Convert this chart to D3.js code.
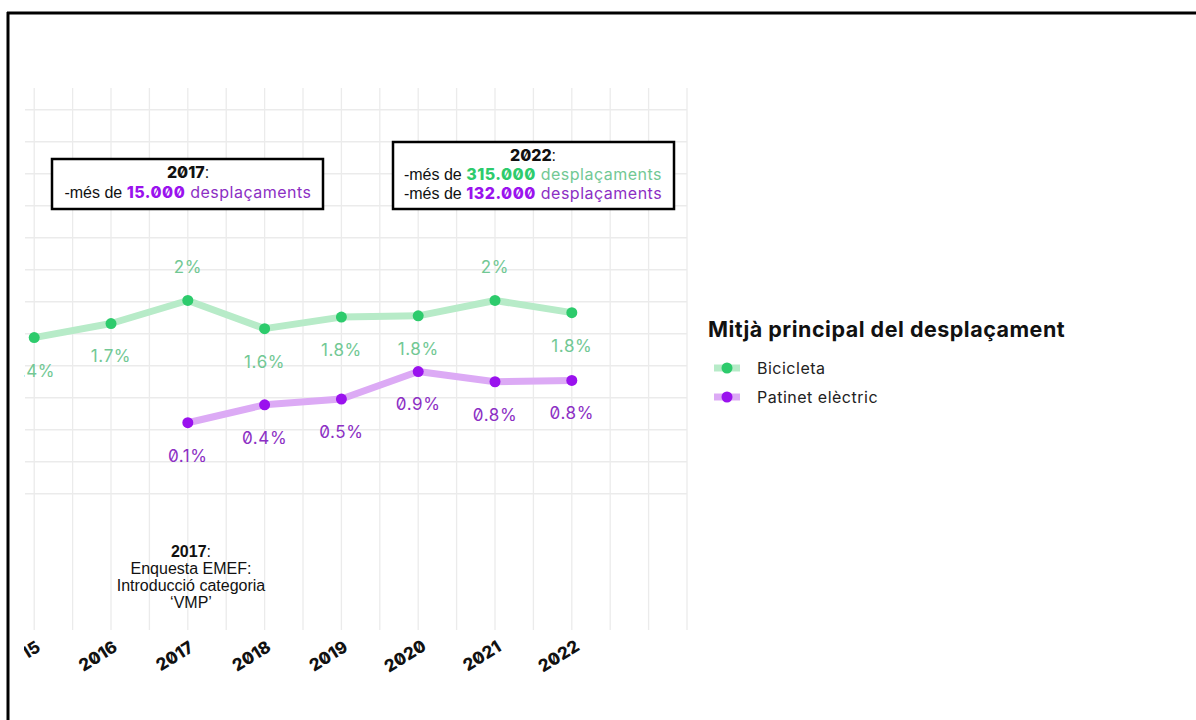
<!DOCTYPE html>
<html>
<head>
<meta charset="utf-8">
<script src="https://cdn.jsdelivr.net/npm/d3@7"></script>
<style>
  body { margin: 0; background: #fff; }
  svg text { font-feature-settings: "zero" 1; }
  .geo { font-family: Inter, "Noto Sans", sans-serif; }
  .arial { font-family: "Liberation Sans", Arial, sans-serif; }
</style>
</head>
<body>
<svg id="chart" width="1196" height="720"></svg>
<script>
// data
const years = [2015, 2016, 2017, 2018, 2019, 2020, 2021, 2022];
const bikeValues = [1.44, 1.66, 2.02, 1.58, 1.76, 1.78, 2.02, 1.83];
const bikeLabels = ["1.4%", "1.7%", "2%", "1.6%", "1.8%", "1.8%", "2%", "1.8%"];
const scooterYears = [2017, 2018, 2019, 2020, 2021, 2022];
const scooterValues = [0.11, 0.39, 0.48, 0.91, 0.75, 0.77];
const scooterLabels = ["0.1%", "0.4%", "0.5%", "0.9%", "0.8%", "0.8%"];
const tickYears = [2015, 2016, 2017, 2018, 2019, 2020, 2021, 2022];
const legendNames = ["Bicicleta", "Patinet elèctric"];

const green = "#2dcb6c", greenLine = "#b7ebc8", greenText = "#72c894";
const purple = "#9a12ee", purpleLine = "#dcaaf5", purpleText = "#8c2fc4";

const svg = d3.select("#chart");
svg.append("rect").attr("width", 1196).attr("height", 720).attr("fill", "#fff");

const x = d3.scaleLinear().domain([2014.88, 2023.5]).range([25, 687]);
const y = d3.scaleLinear().domain([-3.16, 5.34]).range([632, 88]);

svg.append("clipPath").attr("id", "clip")
  .append("rect").attr("x", 24).attr("y", 0).attr("width", 1172).attr("height", 720);

const g = svg.append("g").attr("clip-path", "url(#clip)");

// grid
const grid = g.append("g");
grid.selectAll(".vg").data(d3.range(2014.5, 2023.51, 0.5)).join("line")
  .attr("x1", d => x(d)).attr("x2", d => x(d))
  .attr("y1", 88).attr("y2", 630)
  .attr("stroke", "#ebebeb").attr("stroke-width", 1.3);
grid.selectAll(".hg").data(d3.range(-1, 5.01, 0.5)).join("line")
  .attr("x1", 25).attr("x2", 687)
  .attr("y1", d => y(d)).attr("y2", d => y(d))
  .attr("stroke", "#ebebeb").attr("stroke-width", 1.3);

// lines
const bike = years.map((yr, i) => ({ yr, v: bikeValues[i], lab: bikeLabels[i] }));
const scooter = scooterYears.map((yr, i) => ({ yr, v: scooterValues[i], lab: scooterLabels[i] }));
const line = d3.line().x(d => x(d.yr)).y(d => y(d.v));

function drawSeries(data, lc, pc, tc) {
  g.append("path").datum(data)
    .attr("d", line).attr("fill", "none")
    .attr("stroke", lc).attr("stroke-width", 7)
    .attr("stroke-linejoin", "round").attr("stroke-linecap", "round");
  g.selectAll(null).data(data).join("circle")
    .attr("cx", d => x(d.yr)).attr("cy", d => y(d.v))
    .attr("r", 5.5).attr("fill", pc);
  g.selectAll(null).data(data).join("text")
    .attr("class", "geo")
    .attr("x", d => x(d.yr))
    .attr("y", d => y(d.v) + (d.v >= 2 ? -33 : 33))
    .attr("dy", "0.35em")
    .attr("text-anchor", "middle")
    .attr("font-size", 17).attr("letter-spacing", 0.6)
    .attr("fill", tc)
    .text(d => d.lab);
}
drawSeries(bike, greenLine, green, greenText);
drawSeries(scooter, purpleLine, purple, purpleText);

// x axis labels
g.selectAll(".xl").data(tickYears).join("text")
  .attr("class", "geo")
  .attr("transform", d => `translate(${x(d) - 10},${661}) rotate(-32)`)
  .attr("text-anchor", "middle")
  .attr("font-size", 17).attr("font-weight", 800)
  .attr("fill", "#111")
  .text(d => d);

// annotation boxes
function box(x0, y0, w, h) {
  g.append("rect").attr("x", x0).attr("y", y0).attr("width", w).attr("height", h)
    .attr("fill", "#fff").attr("stroke", "#000").attr("stroke-width", 2.5);
}
function boxLine(cx, cy, num, numColor, wordColor) {
  const t = g.append("text").attr("text-anchor", "middle").attr("font-size", 16)
    .attr("x", cx).attr("y", cy);
  t.append("tspan").attr("class", "arial").attr("fill", "#111").text("-més de ");
  t.append("tspan").attr("class", "geo").attr("font-weight", 800).attr("letter-spacing", 0.5)
    .attr("fill", numColor).text(num);
  t.append("tspan").attr("class", "geo").attr("letter-spacing", 0.5)
    .attr("fill", wordColor).text(" desplaçaments");
}
function boxTitle(cx, cy, yr) {
  const t = g.append("text").attr("text-anchor", "middle").attr("font-size", 16).attr("fill", "#111")
    .attr("x", cx).attr("y", cy);
  t.append("tspan").attr("class", "geo").attr("font-weight", 800).text(yr);
  t.append("tspan").attr("class", "arial").text(":");
}
box(52, 159, 271, 50);
boxTitle(188, 178, "2017");
boxLine(188, 198, "15.000", purple, purpleText);

box(393, 142, 281, 67);
boxTitle(533, 161, "2022");
boxLine(533, 180, "315.000", green, greenText);
boxLine(533, 199, "132.000", purple, purpleText);

// 2017 survey note
const note = g.append("text").attr("class", "arial").attr("text-anchor", "middle")
  .attr("font-size", 16).attr("fill", "#111");
const n0 = note.append("tspan").attr("x", 191).attr("y", 557);
n0.append("tspan").attr("font-weight", 700).text("2017");
n0.append("tspan").text(":");
note.append("tspan").attr("x", 191).attr("y", 574).text("Enquesta EMEF:");
note.append("tspan").attr("x", 191).attr("y", 591).text("Introducció categoria");
note.append("tspan").attr("x", 191).attr("y", 608).text("‘VMP’");

// legend
svg.append("text").attr("class", "geo").attr("x", 708).attr("y", 337)
  .attr("font-size", 21.5).attr("font-weight", 700).attr("letter-spacing", 0.5).attr("fill", "#111")
  .text("Mitjà principal del desplaçament");
const lg = svg.selectAll(".lg").data(legendNames).join("g")
  .attr("transform", (d, i) => `translate(0,${368 + i * 29})`);
lg.append("line").attr("x1", 714).attr("x2", 740).attr("y1", 0).attr("y2", 0)
  .attr("stroke", (d, i) => i ? purpleLine : greenLine).attr("stroke-width", 7);
lg.append("circle").attr("cx", 727).attr("cy", 0).attr("r", 5.5)
  .attr("fill", (d, i) => i ? purple : green);
lg.append("text").attr("class", "geo").attr("x", 757).attr("dy", "0.35em")
  .attr("font-size", 16).attr("letter-spacing", 0.5).attr("fill", "#222").text(d => d);

// frame (left and top edges of the cropped picture)
svg.append("line").attr("x1", 8).attr("x2", 8).attr("y1", 12).attr("y2", 720)
  .attr("stroke", "#000").attr("stroke-width", 3);
svg.append("line").attr("x1", 7).attr("x2", 1196).attr("y1", 13).attr("y2", 13)
  .attr("stroke", "#000").attr("stroke-width", 3);
</script>
</body>
</html>
